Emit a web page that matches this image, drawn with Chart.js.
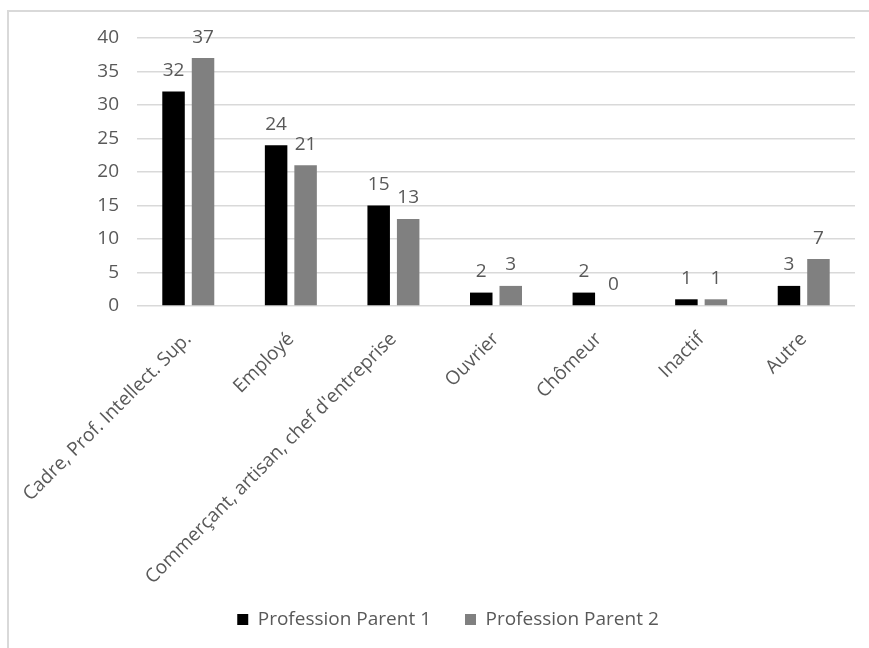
<!DOCTYPE html>
<html>
<head>
<meta charset="utf-8">
<script src="https://cdn.jsdelivr.net/npm/chart.js@4"></script>
<style>
    body { margin: 0; background: #fff; overflow: hidden; }
    #frame {
        position: absolute; left: 7px; top: 10px;
        width: 862px; height: 638px;
        border-top: 2px solid #d9d9d9;
        border-left: 2px solid #d9d9d9;
    }
    #chart { display: block; }
</style>
</head>
<body>
<div id="frame"><canvas id="chart" width="860" height="636"></canvas></div>
<script>
const categories = ['Cadre, Prof. Intellect. Sup.', 'Employé', "Commerçant, artisan, chef d'entreprise", 'Ouvrier', 'Chômeur', 'Inactif', 'Autre'];
const parent1 = [32, 24, 15, 2, 2, 1, 3];
const parent2 = [37, 21, 13, 3, 0, 1, 7];
const yTicks = [0, 5, 10, 15, 20, 25, 30, 35, 40];

const textGray = '#595959';
const font = 'Open Sans';

// values above bars
const barValues = {
    id: 'barValues',
    afterLayout(chart) {
        // let the long rotated label run past the axis box
        chart.scales.x.bottom = chart.height;
        // legend sits a bit right of centre
        chart.legend.left += 16;
        chart.legend.right += 16;
    },
    afterDatasetsDraw(chart) {
        const ctx = chart.ctx;
        ctx.save();
        ctx.fillStyle = textGray;
        ctx.font = '19px "' + font + '"';
        ctx.textAlign = 'center';
        ctx.textBaseline = 'middle';
        chart.data.datasets.forEach((ds, i) => {
            chart.getDatasetMeta(i).data.forEach((bar, j) => {
                ctx.fillText(ds.data[j], bar.x, bar.y - 21);
            });
        });
        ctx.restore();
    }
};

new Chart(document.querySelector('#chart').getContext('2d'), {
    type: 'bar',
    data: {
        labels: categories,
        datasets: [
            { label: 'Profession Parent 1', data: parent1, backgroundColor: '#000000' },
            { label: 'Profession Parent 2', data: parent2, backgroundColor: '#808080' }
        ]
    },
    options: {
        responsive: false,
        animation: false,
        layout: { padding: { top: 26, right: 14, left: 0, bottom: 9 } },
        datasets: { bar: { categoryPercentage: 0.575, barPercentage: 0.763 } },
        scales: {
            x: {
                grid: { display: false },
                border: { display: false },
                ticks: { color: textGray, font: { family: font, size: 19 }, minRotation: 45, maxRotation: 45, padding: 14 },
                afterFit: (scale) => {
                    scale.height = 270;
                    scale.paddingLeft = 0;
                    scale.paddingRight = 0;
                }
            },
            y: {
                min: 0, max: 40,
                afterBuildTicks: (scale) => { scale.ticks = yTicks.map(v => ({ value: v })); },
                grid: { color: '#d9d9d9', lineWidth: 1.5, drawTicks: false },
                border: { display: false },
                ticks: { color: textGray, font: { family: font, size: 19 }, padding: 18 },
                afterFit: (scale) => {
                    scale.width = 128;
                    scale.paddingTop = 0;
                    scale.paddingBottom = 0;
                }
            }
        },
        plugins: {
            legend: {
                position: 'bottom',
                labels: { color: textGray, font: { family: font, size: 19 }, boxWidth: 11, boxHeight: 11, padding: 34 }
            },
            tooltip: { enabled: false }
        }
    },
    plugins: [barValues]
});
</script>
</body>
</html>
